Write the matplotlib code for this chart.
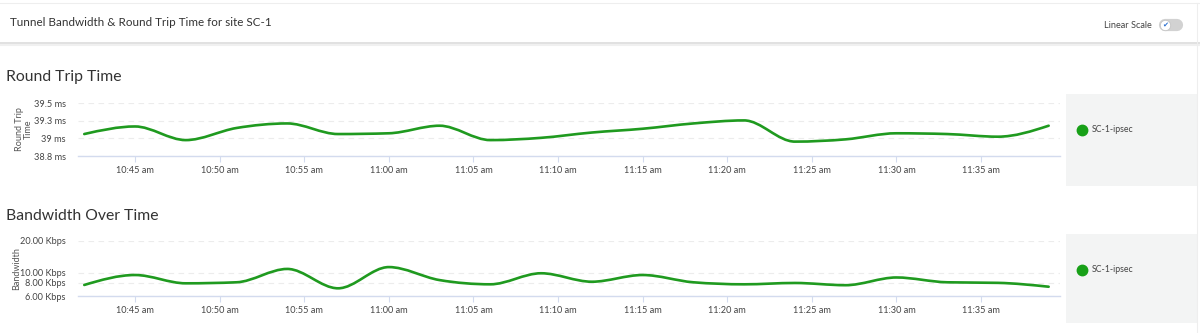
import numpy as np
import matplotlib
matplotlib.use("Agg")
import matplotlib.pyplot as plt
from matplotlib.path import Path
from matplotlib.patches import PathPatch, Rectangle
from matplotlib.ticker import NullLocator

plt.rcParams['font.family'] = ['Lato', 'DejaVu Sans']

# data: samples every 3 minutes, time as minutes after 10:00
minutes = [42, 45, 48, 51, 54, 57, 60, 63, 66, 69, 72, 75, 78, 81, 84, 87, 90, 93, 96, 99]
rtt_ms = [39.09, 39.19, 39.01, 39.17, 39.23, 39.09, 39.10, 39.20, 39.01, 39.04,
          39.11, 39.16, 39.23, 39.27, 38.99, 39.02, 39.10, 39.09, 39.055, 39.20]
bw_kbps = [7.64, 9.5, 7.92, 8.1, 10.85, 7.1, 11.3, 8.5, 7.75, 9.87,
           8.2, 9.5, 8.1, 7.75, 7.98, 7.6, 9.0, 8.1, 8.0, 7.35]

tick_minutes = [45, 50, 55, 60, 65, 70, 75, 80, 85, 90, 95]
tick_labels = ["10:45 am", "10:50 am", "10:55 am", "11:00 am", "11:05 am", "11:10 am",
               "11:15 am", "11:20 am", "11:25 am", "11:30 am", "11:35 am"]
rtt_ticks = list(np.linspace(38.8, 39.5, 4))
rtt_tick_labels = ["38.8 ms", "39 ms", "39.3 ms", "39.5 ms"]
bw_ticks = [6, 8, 10, 20]
bw_tick_labels = ["6.00 Kbps", "8.00 Kbps", "10.00 Kbps", "20.00 Kbps"]
series_name = "SC-1-ipsec"

GREEN = "#1f9a1f"
W, H = 1200, 333


def monotone_path(x, y):
    """bezier path like d3 curveMonotoneX"""
    x = np.asarray(x, float)
    y = np.asarray(y, float)
    n = len(x)
    h = np.diff(x)
    s = np.diff(y) / h
    t = np.zeros(n)
    for i in range(1, n - 1):
        h0, h1, s0, s1 = h[i - 1], h[i], s[i - 1], s[i]
        p = (s0 * h1 + s1 * h0) / (h0 + h1)
        t[i] = (np.sign(s0) + np.sign(s1)) * min(abs(s0), abs(s1), 0.5 * abs(p))
    t[0] = (3 * s[0] - t[1]) / 2
    t[-1] = (3 * s[-1] - t[-2]) / 2
    verts = [(x[0], y[0])]
    codes = [Path.MOVETO]
    for i in range(n - 1):
        dx = h[i] / 3
        verts += [(x[i] + dx, y[i] + dx * t[i]), (x[i + 1] - dx, y[i + 1] - dx * t[i + 1]),
                  (x[i + 1], y[i + 1])]
        codes += [Path.CURVE4] * 3
    return np.array(verts), codes


def px(x0, y0, x1, y1):
    return [x0 / W, 1 - y1 / H, (x1 - x0) / W, (y1 - y0) / H]


fig = plt.figure(figsize=(W / 100, H / 100), dpi=100)
fig.patch.set_facecolor("white")

# header
fig.text(10 / W, 1 - 23 / H, "Tunnel Bandwidth & Round Trip Time for site SC-1",
         fontsize=8.4, color="#333333", va="center", ha="left")
fig.add_artist(plt.Line2D([0, 1], [1 - 43 / H, 1 - 43 / H], color="#dcdcdc", lw=1.2))
fig.add_artist(plt.Line2D([0, 1], [1 - 44.5 / H, 1 - 44.5 / H], color="#f0f0f0", lw=1.5))
fig.add_artist(plt.Line2D([0, 1], [1 - 3 / H, 1 - 3 / H], color="#eeeeee", lw=0.8))
fig.add_artist(plt.Line2D([1197 / W, 1197 / W], [0, 1 - 3 / H], color="#eeeeee", lw=0.8))
fig.text(1152 / W, 1 - 25 / H, "Linear Scale", fontsize=6.6, color="#444444",
         va="center", ha="right")
# toggle switch
fig.add_artist(plt.Line2D([1165 / W, 1177 / W], [1 - 25 / H, 1 - 25 / H], color="#d2d2d2",
                          lw=8.8, solid_capstyle="round"))
fig.add_artist(plt.Line2D([1165 / W], [1 - 25 / H], marker="o", ms=7.5, mfc="white",
                          mec="#c4c4c4", mew=0.6, ls="none"))
fig.text(1165 / W, 1 - 25 / H, "\u2714", fontsize=5.2, color="#2a6fcf", ha="center",
         va="center", family="DejaVu Sans")


def style_axes(ax, title, title_y, ylabel, label_x):
    for side in ["top", "right", "left"]:
        ax.spines[side].set_visible(False)
    ax.spines["bottom"].set_color("#d3dbee")
    ax.spines["bottom"].set_linewidth(1.0)
    ax.set_xlim(41.63, 99.67)
    ax.set_xticks(tick_minutes)
    ax.set_xticklabels(tick_labels)
    ax.tick_params(axis="x", length=4, width=0.8, color="#d3dbee", labelsize=6.6,
                   labelcolor="#444444", pad=3)
    ax.tick_params(axis="y", length=0, labelsize=6.6, labelcolor="#444444", pad=9)
    ax.yaxis.set_minor_locator(NullLocator())
    ax.grid(axis="y", color="#ececec", ls=(0, (5, 4)), lw=0.8)
    ax.set_axisbelow(True)
    ax.set_ylabel(ylabel, fontsize=6.5, color="#555555", linespacing=1.0)
    ax.yaxis.set_label_coords(label_x, 0.5)
    fig.text(6 / W, 1 - title_y / H, title, fontsize=11.3, color="#333333",
             va="center", ha="left")


# Round trip time
ax1 = fig.add_axes(px(78, 103, 1060, 156))
ax1.set_ylim(38.8, 39.5)
ax1.set_yticks(rtt_ticks)
ax1.set_yticklabels(rtt_tick_labels)
style_axes(ax1, "Round Trip Time", 77, "Round Trip\nTime", -0.046)
v, c = monotone_path(minutes, rtt_ms)
ax1.add_patch(PathPatch(Path(v, c), fc="none", ec=GREEN, lw=1.9, capstyle="round"))

# Bandwidth (log scale)
ax2 = fig.add_axes(px(78, 241, 1060, 296))
ax2.set_yscale("log")
ax2.set_ylim(6, 20)
ax2.set_yticks(bw_ticks)
ax2.set_yticklabels(bw_tick_labels)
style_axes(ax2, "Bandwidth Over Time", 216, "Bandwidth", -0.058)
v, c = monotone_path(minutes, np.log10(bw_kbps))
v[:, 1] = 10 ** v[:, 1]
ax2.add_patch(PathPatch(Path(v, c), fc="none", ec=GREEN, lw=1.9, capstyle="round"))

# legend panels
for top, bot in [(94, 186), (234, 323)]:
    fig.add_artist(Rectangle((1066 / W, 1 - bot / H), 131 / W, (bot - top) / H,
                             transform=fig.transFigure, fc="#f3f4f4", ec="none"))
    cy = 1 - (top + 36) / H
    fig.add_artist(plt.Line2D([1082 / W], [cy], marker="o", ms=7.5, color="#17a017",
                              ls="none"))
    fig.text(1092 / W, cy, series_name, fontsize=6.3, color="#444444", va="center",
             ha="left")

fig.savefig("out.png", dpi=100)
